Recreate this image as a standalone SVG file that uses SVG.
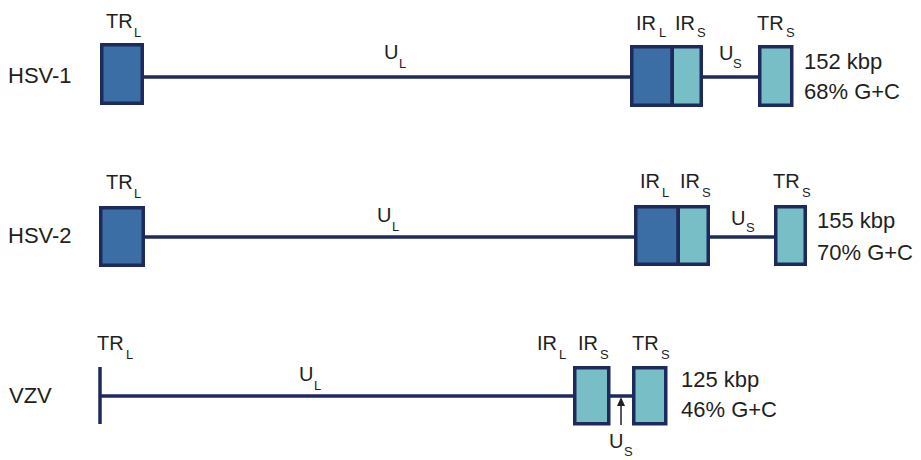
<svg xmlns="http://www.w3.org/2000/svg" width="921" height="460" viewBox="0 0 921 460">
<defs>
<style>
text{font-family:"Liberation Sans",Arial,sans-serif;fill:#231f20}
.t{font-size:22px}
.l{font-size:20px}
.s{font-size:13px}
.dk{fill:#3a6ea5;stroke:#1f2a5c;stroke-width:3.5}
.lt{fill:#77bec6;stroke:#1f2a5c;stroke-width:3.5}
.ln{stroke:#1f2a5c;stroke-width:3.5;fill:none}
</style>
</defs>
<rect width="921" height="460" fill="#ffffff"/>

<g id="connectors">
<line class="ln" x1="144" y1="77" x2="630" y2="77"/>
<line class="ln" x1="703" y1="77" x2="758" y2="77"/>
<line class="ln" x1="145" y1="237" x2="635" y2="237"/>
<line class="ln" x1="709" y1="237" x2="775" y2="237"/>
<line class="ln" x1="100" y1="396" x2="574" y2="396"/>
<line class="ln" x1="609" y1="396" x2="633" y2="396"/>
<line class="ln" x1="100" y1="367" x2="100" y2="424"/>
<line x1="621" y1="425" x2="621" y2="404" stroke="#231f20" stroke-width="1.5"/>
<path d="M617,406 L621,397 L625,406 Z" fill="#231f20"/>
</g>

<g id="hsv1">
<text class="t" x="8" y="83">HSV-1</text>
<g id="hsv1-trl"><rect class="dk" x="101.75" y="44.75" width="40.5" height="58.5"/><text class="l" x="106" y="28">TR</text><text class="s" x="134" y="37">L</text></g>
<g id="hsv1-ul"><text class="l" x="384" y="59">U</text><text class="s" x="399" y="68">L</text></g>
<g id="hsv1-irl"><rect class="dk" x="631.75" y="46.75" width="40.5" height="58.5"/><text class="l" x="636" y="30">IR</text><text class="s" x="659" y="37">L</text></g>
<g id="hsv1-irs"><rect class="lt" x="672.25" y="46.75" width="29" height="58.5"/><text class="l" x="675" y="30">IR</text><text class="s" x="697" y="37">S</text></g>
<g id="hsv1-us"><text class="l" x="719" y="60">U</text><text class="s" x="733" y="68">S</text></g>
<g id="hsv1-trs"><rect class="lt" x="759.75" y="46.75" width="32" height="58.5"/><text class="l" x="757" y="30">TR</text><text class="s" x="786" y="37">S</text></g>
<text class="t" x="804" y="69">152 kbp</text>
<text class="t" x="804" y="99">68% G+C</text>
</g>

<g id="hsv2">
<text class="t" x="8" y="243">HSV-2</text>
<g id="hsv2-trl"><rect class="dk" x="100.75" y="207.75" width="42.5" height="57.5"/><text class="l" x="106" y="189">TR</text><text class="s" x="134" y="198">L</text></g>
<g id="hsv2-ul"><text class="l" x="377" y="222">U</text><text class="s" x="392" y="231">L</text></g>
<g id="hsv2-irl"><rect class="dk" x="635.75" y="206.75" width="42.5" height="57.5"/><text class="l" x="640" y="188">IR</text><text class="s" x="662" y="197">L</text></g>
<g id="hsv2-irs"><rect class="lt" x="678.25" y="206.75" width="30" height="57.5"/><text class="l" x="680" y="188">IR</text><text class="s" x="702" y="197">S</text></g>
<g id="hsv2-us"><text class="l" x="731" y="225">U</text><text class="s" x="746" y="232">S</text></g>
<g id="hsv2-trs"><rect class="lt" x="775.75" y="206.75" width="29.5" height="57.5"/><text class="l" x="773" y="188">TR</text><text class="s" x="802" y="197">S</text></g>
<text class="t" x="817" y="228">155 kbp</text>
<text class="t" x="817" y="260">70% G+C</text>
</g>

<g id="vzv">
<text class="t" x="9" y="403">VZV</text>
<g id="vzv-trl"><text class="l" x="97" y="350">TR</text><text class="s" x="126" y="359">L</text></g>
<g id="vzv-ul"><text class="l" x="299" y="381">U</text><text class="s" x="314" y="390">L</text></g>
<g id="vzv-irl"><text class="l" x="537" y="350">IR</text><text class="s" x="559" y="359">L</text></g>
<g id="vzv-irs"><rect class="lt" x="574.75" y="367.75" width="34" height="56"/><text class="l" x="578" y="350">IR</text><text class="s" x="600" y="359">S</text></g>
<g id="vzv-us"><text class="l" x="609" y="448">U</text><text class="s" x="624" y="456">S</text></g>
<g id="vzv-trs"><rect class="lt" x="633.75" y="367.75" width="32" height="56"/><text class="l" x="632" y="350">TR</text><text class="s" x="661" y="359">S</text></g>
<text class="t" x="681" y="387">125 kbp</text>
<text class="t" x="681" y="417">46% G+C</text>
</g>
</svg>
